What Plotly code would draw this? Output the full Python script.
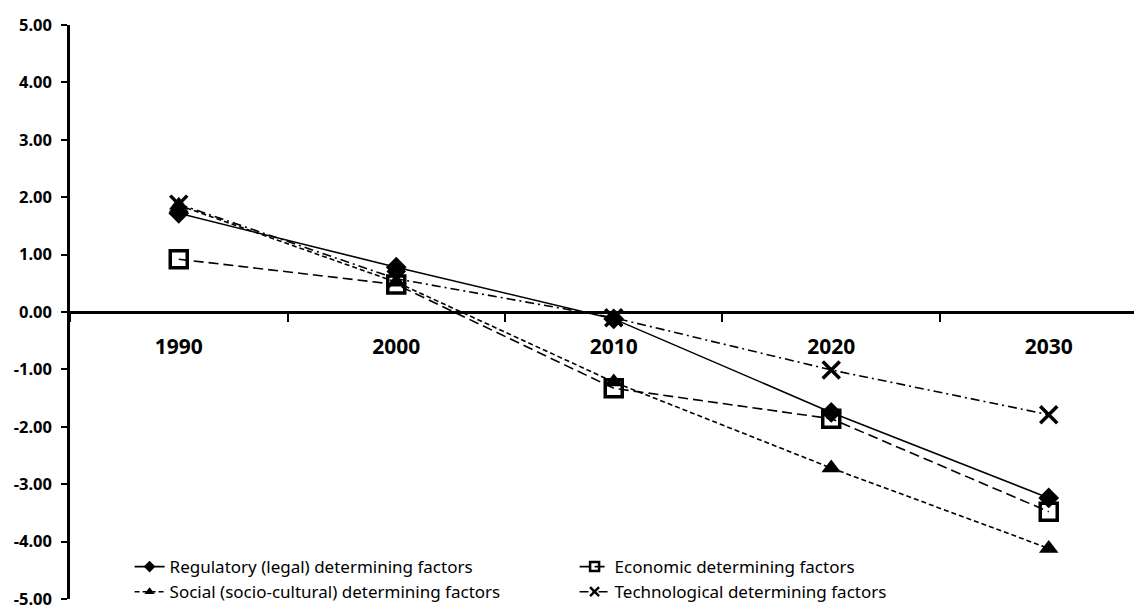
import plotly.graph_objects as go

years = ["1990", "2000", "2010", "2020", "2030"]
regulatory = [1.72, 0.78, -0.12, -1.75, -3.24]
economic = [0.92, 0.48, -1.33, -1.86, -3.48]
social = [1.86, 0.52, -1.22, -2.72, -4.12]
technological = [1.88, 0.58, -0.10, -1.01, -1.79]

y_ticks = [5, 4, 3, 2, 1, 0, -1, -2, -3, -4, -5]

series = [
    ("Regulatory (legal) determining factors", regulatory, "solid", "diamond", 16, 0),
    ("Economic determining factors", economic, "10px,5px", "square-open", 17, 3.5),
    ("Social (socio-cultural) determining factors", social, "5px,3px", "triangle-up", 17, 0),
    ("Technological determining factors", technological, "9px,4px,2px,4px", "x-thin-open", 17, 3.5),
]

fig = go.Figure()
for name, vals, dash, sym, size, lw in series:
    fig.add_trace(go.Scatter(
        x=years, y=vals, mode="lines+markers", name=name, showlegend=False,
        line=dict(color="black", width=1.6, dash=dash),
        marker=dict(symbol=sym, size=size, color="black",
                    line=dict(color="black", width=lw)),
    ))

# compact legend samples
for name, vals, dash, sym, size, lw in series:
    fig.add_trace(go.Scatter(
        x=[None], y=[None], mode="lines+markers", name=name,
        line=dict(color="black", width=1.6, dash=dash),
        marker=dict(symbol=sym, size=9, color="black",
                    line=dict(color="black", width=min(lw, 2.5))),
    ))

fig.update_layout(
    width=1146, height=610,
    margin=dict(l=70, r=12, t=25, b=11, autoexpand=False),
    paper_bgcolor="white", plot_bgcolor="white",
    font=dict(family="Noto Sans", color="black"),
    xaxis=dict(
        type="category", range=[-0.5, 4.392],
        anchor="free", position=0.5,
        showline=True, linecolor="black", linewidth=2.5,
        ticks="outside", ticklen=8, tickwidth=2, tickcolor="black",
        tickson="boundaries", showgrid=False, zeroline=False,
        tickfont=dict(size=21, family="Noto Sans", weight="bold"),
        ticklabelstandoff=15,
    ),
    yaxis=dict(
        range=[-5.002, 5.002], tickvals=y_ticks,
        ticktext=[f"{v:.2f}" for v in y_ticks],
        showline=True, linecolor="black", linewidth=2.5,
        ticks="outside", ticklen=6, tickwidth=2, tickcolor="black",
        showgrid=False, zeroline=False,
        tickfont=dict(size=16.5, family="Noto Sans", weight="bold"),
        ticklabelstandoff=6, ticklabeloverflow="allow",
    ),
    legend=dict(
        orientation="h", x=0.056, y=0.087, xanchor="left", yanchor="top",
        entrywidth=400, entrywidthmode="pixels",
        font=dict(size=17, family="Noto Sans"),
        bgcolor="rgba(0,0,0,0)", tracegroupgap=0,
    ),
)

fig.write_html("out.html")
